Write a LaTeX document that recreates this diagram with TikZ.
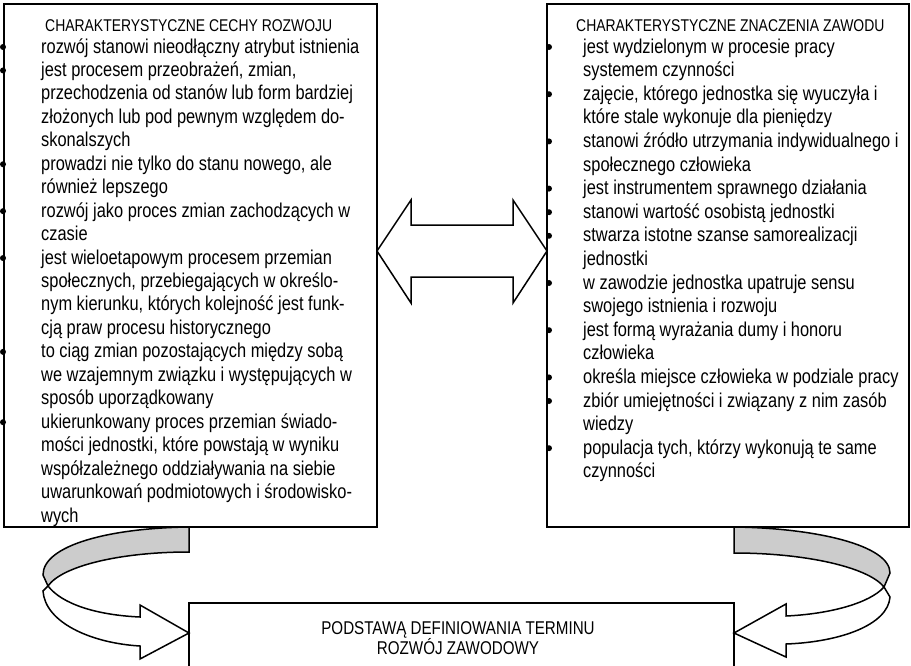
\documentclass[tikz,border=0pt]{standalone}
\usepackage{fontspec}
\setmainfont{Liberation Sans}[FakeStretch=0.82]
\tikzset{
  body/.style={anchor=base west, inner sep=0pt, font=\fontsize{20}{23}\selectfont},
  heading/.style={anchor=base west, inner sep=0pt, font=\fontsize{17}{20}\selectfont},
  frame/.style={draw=black, line width=1.8pt},
  outline/.style={draw=black, line width=1.5pt, line join=miter},
  backside/.style={outline, fill=black!20},
  frontside/.style={outline, fill=white},
  dot/.style={fill=black},
}
\begin{document}
\begin{tikzpicture}[x=1pt,y=-1pt]
\useasboundingbox (0,0) rectangle (911,665);
\clip (0,0) rectangle (911,665);
\fill[white] (0,0) rectangle (911,665);

% ---- frames ----
\draw[frame] (4,4) rectangle (377,527);
\draw[frame] (547,4) rectangle (909,527);
\draw[frame] (189,603) rectangle (734,672);

% ---- left list ----
\node[heading] (lhead) at (45,31) {CHARAKTERYSTYCZNE CECHY ROZWOJU};
\foreach \t [count=\i] in {
  {rozwój stanowi nieodłączny atrybut istnienia},
  {jest procesem przeobrażeń, zmian,},
  {przechodzenia od stanów lub form bardziej},
  {złożonych lub pod pewnym względem do-},
  {skonalszych},
  {prowadzi nie tylko do stanu nowego, ale},
  {również lepszego},
  {rozwój jako proces zmian zachodzących w},
  {czasie},
  {jest wieloetapowym procesem przemian},
  {społecznych, przebiegających w określo-},
  {nym kierunku, których kolejność jest funk-},
  {cją praw procesu historycznego},
  {to ciąg zmian pozostających między sobą},
  {we wzajemnym związku i występujących w},
  {sposób uporządkowany},
  {ukierunkowany proces przemian świado-},
  {mości jednostki, które powstają w wyniku},
  {współzależnego oddziaływania na siebie},
  {uwarunkowań podmiotowych i środowisko-},
  {wych}}
  {\node[body] (L\i) at (41,{53+23.45*(\i-1)}) {\t};}
\foreach \i in {1,2,6,8,10,14,17}
  \fill[dot] (3,{47+23.45*(\i-1)}) circle (3);

% ---- right list ----
\node[heading] (rhead) at (576,31) {CHARAKTERYSTYCZNE ZNACZENIA ZAWODU};
\foreach \t [count=\i] in {
  {jest wydzielonym w procesie pracy},
  {systemem czynności},
  {zajęcie, którego jednostka się wyuczyła i},
  {które stale wykonuje dla pieniędzy},
  {stanowi źródło utrzymania indywidualnego i},
  {społecznego człowieka},
  {jest instrumentem sprawnego działania},
  {stanowi wartość osobistą jednostki},
  {stwarza istotne szanse samorealizacji},
  {jednostki},
  {w zawodzie jednostka upatruje sensu},
  {swojego istnienia i rozwoju},
  {jest formą wyrażania dumy i honoru},
  {człowieka},
  {określa miejsce człowieka w podziale pracy},
  {zbiór umiejętności i związany z nim zasób},
  {wiedzy},
  {populacja tych, którzy wykonują te same},
  {czynności}}
  {\node[body] (R\i) at (583,{53+23.6*(\i-1)}) {\t};}
\foreach \i in {1,3,5,7,8,9,11,13,15,16,18}
  \fill[dot] (549,{47+23.6*(\i-1)}) circle (3);

% ---- bottom caption ----
\node[align=center, inner sep=0pt, font=\fontsize{18.5}{20}\selectfont]
  (base) at (458,638) {PODSTAWĄ DEFINIOWANIA TERMINU\\ROZWÓJ ZAWODOWY};

% ---- double arrow between the lists ----
\coordinate (dl) at (377,251);
\coordinate (dr) at (547,251);
\draw[frontside] (dl) -- (411,200) -- (411,225) -- (513,225) -- (513,200)
  -- (dr) -- (513,303) -- (513,277) -- (411,277) -- (411,303) -- cycle;

% ---- left curved arrow ----
\coordinate (la) at (189,527);
\coordinate (lb) at (43,575);
\coordinate (ld) at (189,552);
\coordinate (le) at (48,586);
\coordinate (lf) at (43,591);
\coordinate (lh) at (140,617);
\coordinate (lg) at (140,646);
\coordinate (lt) at (189,633);
\draw[backside] (la) .. controls (110,528) and (43,545) .. (lb)
  -- (le) .. controls (62,566) and (120,552) .. (ld) -- cycle;
\draw[frontside] (le) .. controls (62,604) and (96,615) .. (lh)
  -- (140,605) -- (lt) -- (140,659) -- (lg)
  .. controls (90,643) and (45,622) .. (lf) -- cycle;

% ---- right curved arrow ----
\coordinate (ra) at (734,527);
\coordinate (rb) at (890,573);
\coordinate (rd) at (734,553);
\coordinate (re) at (884,587);
\coordinate (rf) at (890,597);
\coordinate (rh) at (786,616);
\coordinate (rg) at (786,644);
\coordinate (rt) at (734,633);
\draw[backside] (ra) .. controls (815,528) and (890,545) .. (rb)
  -- (re) .. controls (868,567) and (805,553) .. (rd) -- cycle;
\draw[frontside] (re) .. controls (870,603) and (830,614) .. (rh)
  -- (786,604) -- (rt) -- (786,657) -- (rg)
  .. controls (840,642) and (888,625) .. (rf) -- cycle;
\end{tikzpicture}
\end{document}
